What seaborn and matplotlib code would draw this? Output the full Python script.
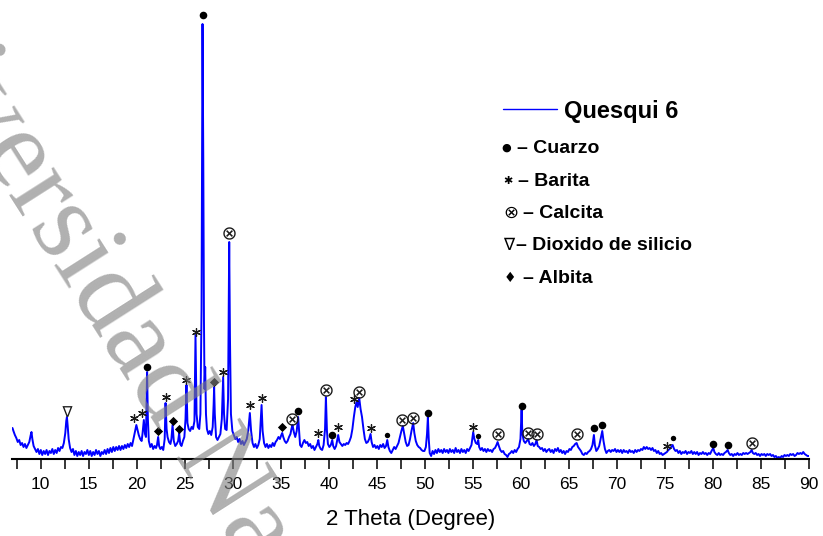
import numpy as np
import pandas as pd
import matplotlib
matplotlib.use("Agg")
import matplotlib.pyplot as plt
from matplotlib.ticker import MultipleLocator
import seaborn as sns

# ---------------- data ----------------
pattern = [
    (7.05, 31), (7.15, 28), (7.3, 24), (7.45, 21), (7.6, 17), (7.75, 19), (7.9, 14), (8.05, 16), (8.2, 12),
    (8.35, 15), (8.5, 11), (8.65, 14), (8.8, 17), (8.95, 24), (9.03, 27), (9.12, 20), (9.25, 13), (9.4, 10),
    (9.55, 7), (9.7, 10), (9.85, 5), (10.0, 9), (10.15, 4), (10.3, 8), (10.45, 5), (10.6, 9), (10.75, 4),
    (10.9, 8), (11.05, 6), (11.2, 10), (11.35, 5), (11.5, 9), (11.65, 6), (11.8, 11), (11.95, 8), (12.1, 12),
    (12.25, 11), (12.4, 16), (12.55, 26), (12.65, 38), (12.72, 42), (12.8, 33), (12.9, 20), (13.05, 11),
    (13.2, 7), (13.35, 10), (13.5, 4), (13.65, 8), (13.8, 3), (13.95, 7), (14.1, 4), (14.25, 8), (14.4, 3),
    (14.55, 7), (14.7, 5), (14.85, 9), (15.0, 4), (15.15, 8), (15.3, 3), (15.45, 7), (15.6, 4), (15.75, 9),
    (15.9, 5), (16.05, 8), (16.2, 3), (16.35, 7), (16.5, 5), (16.65, 9), (16.8, 5), (16.95, 10), (17.1, 6),
    (17.25, 11), (17.4, 7), (17.55, 12), (17.7, 8), (17.85, 12), (18.0, 9), (18.15, 13), (18.3, 9),
    (18.45, 13), (18.6, 10), (18.75, 14), (18.9, 11), (19.05, 15), (19.2, 12), (19.35, 16), (19.5, 13),
    (19.65, 20), (19.8, 27), (19.95, 34), (20.05, 30), (20.2, 24), (20.35, 20), (20.5, 18), (20.6, 26),
    (20.73, 39), (20.85, 25), (20.95, 22), (21.07, 87), (21.15, 40), (21.25, 18), (21.4, 12), (21.55, 15),
    (21.7, 10), (21.85, 13), (22.0, 11), (22.1, 14), (22.22, 22), (22.32, 13), (22.45, 10), (22.6, 12),
    (22.75, 9), (22.9, 20), (22.99, 56), (23.1, 30), (23.2, 22), (23.35, 17), (23.5, 15), (23.6, 20),
    (23.72, 34), (23.85, 18), (24.0, 13), (24.15, 15), (24.3, 18), (24.41, 26), (24.52, 15), (24.65, 13),
    (24.8, 18), (24.95, 22), (25.07, 40), (25.17, 74), (25.27, 36), (25.4, 30), (25.55, 28), (25.7, 32),
    (25.85, 30), (26.0, 38), (26.11, 124), (26.22, 45), (26.35, 32), (26.5, 30), (26.62, 45), (26.74, 150),
    (26.84, 435), (26.92, 300), (26.99, 140), (27.05, 70), (27.12, 92), (27.2, 45), (27.3, 30), (27.45, 25),
    (27.6, 28), (27.75, 24), (27.9, 32), (28.0, 55), (28.05, 72), (28.12, 45), (28.25, 22), (28.4, 19),
    (28.55, 22), (28.7, 25), (28.85, 40), (28.99, 82), (29.08, 45), (29.2, 30), (29.35, 29), (29.5, 60),
    (29.62, 217), (29.7, 120), (29.8, 45), (29.95, 28), (30.1, 24), (30.25, 20), (30.4, 22), (30.55, 17),
    (30.7, 20), (30.85, 15), (31.0, 18), (31.15, 14), (31.3, 17), (31.45, 20), (31.6, 28), (31.77, 46),
    (31.9, 28), (32.05, 16), (32.2, 12), (32.35, 15), (32.5, 11), (32.65, 14), (32.8, 20), (32.99, 54),
    (33.1, 28), (33.25, 16), (33.4, 12), (33.55, 15), (33.7, 11), (33.85, 14), (34.0, 12), (34.15, 16),
    (34.3, 13), (34.45, 17), (34.6, 19), (34.75, 22), (34.9, 20), (35.05, 24), (35.14, 26), (35.25, 22),
    (35.4, 18), (35.55, 16), (35.7, 18), (35.85, 22), (36.0, 25), (36.1, 30), (36.21, 34), (36.35, 27),
    (36.5, 22), (36.65, 28), (36.8, 42), (36.9, 28), (37.0, 14), (37.15, 12), (37.3, 16), (37.45, 19),
    (37.6, 16), (37.75, 17), (37.9, 13), (38.05, 15), (38.2, 11), (38.35, 13), (38.5, 9), (38.65, 12),
    (38.8, 15), (38.9, 19), (39.0, 13), (39.15, 10), (39.3, 9), (39.45, 14), (39.6, 30), (39.69, 62),
    (39.8, 28), (39.9, 15), (40.05, 12), (40.2, 14), (40.35, 19), (40.45, 13), (40.6, 10), (40.75, 13),
    (40.85, 18), (40.97, 24), (41.1, 17), (41.25, 15), (41.4, 13), (41.55, 15), (41.7, 14), (41.85, 16),
    (42.0, 15), (42.15, 18), (42.3, 22), (42.45, 30), (42.6, 42), (42.75, 52), (42.88, 57), (43.0, 52),
    (43.16, 61), (43.3, 50), (43.45, 42), (43.6, 30), (43.75, 20), (43.9, 16), (44.05, 17), (44.2, 20),
    (44.34, 25), (44.45, 17), (44.6, 12), (44.75, 14), (44.9, 11), (45.05, 13), (45.2, 10), (45.35, 14),
    (45.5, 12), (45.65, 15), (45.8, 11), (45.95, 13), (46.08, 19), (46.2, 12), (46.35, 8), (46.5, 6),
    (46.65, 9), (46.8, 12), (46.95, 10), (47.1, 13), (47.25, 16), (47.4, 22), (47.55, 28), (47.7, 33),
    (47.85, 25), (48.0, 17), (48.15, 13), (48.3, 14), (48.45, 20), (48.6, 28), (48.78, 36), (48.9, 26),
    (49.05, 18), (49.2, 14), (49.35, 12), (49.5, 11), (49.65, 9), (49.8, 8), (49.95, 8), (50.1, 12),
    (50.22, 25), (50.31, 42), (50.4, 20), (50.5, 6), (50.65, 3), (50.8, 8), (50.95, 5), (51.1, 9),
    (51.25, 6), (51.4, 10), (51.55, 7), (51.7, 9), (51.85, 6), (52.0, 10), (52.15, 7), (52.3, 9),
    (52.45, 6), (52.6, 10), (52.75, 7), (52.9, 9), (53.05, 6), (53.2, 11), (53.35, 7), (53.5, 9),
    (53.65, 6), (53.8, 10), (53.95, 7), (54.1, 9), (54.25, 6), (54.4, 10), (54.55, 8), (54.7, 11),
    (54.85, 14), (55.03, 27), (55.15, 20), (55.3, 16), (55.45, 15), (55.55, 19), (55.65, 12), (55.8, 9),
    (55.95, 11), (56.1, 8), (56.25, 10), (56.4, 7), (56.55, 10), (56.7, 8), (56.85, 9), (57.0, 7),
    (57.15, 10), (57.3, 11), (57.45, 14), (57.57, 17), (57.7, 13), (57.85, 9), (58.0, 7), (58.15, 8),
    (58.3, 5), (58.45, 4), (58.6, 2), (58.75, 5), (58.9, 6), (59.05, 8), (59.2, 6), (59.35, 9), (59.5, 7),
    (59.65, 10), (59.8, 12), (59.95, 20), (60.07, 49), (60.15, 25), (60.3, 18), (60.45, 16), (60.6, 18),
    (60.76, 20), (60.9, 15), (61.05, 14), (61.2, 16), (61.35, 13), (61.5, 15), (61.63, 19), (61.75, 13),
    (61.9, 12), (62.05, 10), (62.2, 11), (62.35, 8), (62.5, 10), (62.65, 7), (62.8, 9), (62.95, 10),
    (63.1, 7), (63.25, 9), (63.4, 6), (63.55, 10), (63.7, 8), (63.85, 11), (64.0, 7), (64.15, 9),
    (64.3, 6), (64.45, 8), (64.6, 5), (64.75, 8), (64.9, 7), (65.05, 10), (65.2, 9), (65.35, 12),
    (65.5, 13), (65.65, 15), (65.8, 16), (65.95, 12), (66.1, 10), (66.25, 8), (66.4, 5), (66.55, 4),
    (66.7, 6), (66.85, 5), (67.0, 7), (67.15, 8), (67.3, 10), (67.45, 14), (67.6, 24), (67.7, 14),
    (67.85, 8), (68.0, 10), (68.15, 13), (68.3, 20), (68.47, 28), (68.6, 18), (68.75, 10), (68.9, 6),
    (69.05, 8), (69.2, 9), (69.35, 7), (69.5, 9), (69.65, 8), (69.8, 10), (69.95, 7), (70.1, 9),
    (70.25, 7), (70.4, 9), (70.55, 6), (70.7, 9), (70.85, 7), (71.0, 8), (71.15, 6), (71.3, 9),
    (71.45, 7), (71.6, 8), (71.75, 6), (71.9, 9), (72.05, 7), (72.2, 9), (72.35, 8), (72.5, 10),
    (72.65, 9), (72.8, 12), (72.95, 10), (73.1, 12), (73.25, 10), (73.4, 11), (73.55, 9), (73.7, 11),
    (73.85, 8), (74.0, 9), (74.15, 6), (74.3, 8), (74.45, 5), (74.6, 6), (74.75, 4), (74.9, 5),
    (75.05, 6), (75.2, 7), (75.35, 9), (75.5, 10), (75.65, 12), (75.8, 14), (75.95, 10), (76.1, 8),
    (76.25, 9), (76.4, 6), (76.55, 8), (76.7, 5), (76.85, 7), (77.0, 6), (77.15, 8), (77.3, 5),
    (77.45, 7), (77.6, 6), (77.75, 8), (77.9, 5), (78.05, 7), (78.2, 5), (78.35, 7), (78.5, 4),
    (78.65, 6), (78.8, 5), (78.95, 7), (79.1, 5), (79.25, 6), (79.4, 4), (79.55, 6), (79.7, 5),
    (79.85, 8), (80.03, 11), (80.15, 7), (80.3, 5), (80.45, 4), (80.6, 6), (80.75, 4), (80.9, 5),
    (81.05, 4), (81.2, 6), (81.35, 7), (81.53, 9), (81.65, 6), (81.8, 4), (81.95, 5), (82.1, 3),
    (82.25, 5), (82.4, 4), (82.55, 6), (82.7, 4), (82.85, 5), (83.0, 4), (83.15, 6), (83.3, 5),
    (83.45, 6), (83.6, 5), (83.75, 6), (83.9, 7), (84.03, 9), (84.15, 6), (84.3, 5), (84.45, 6),
    (84.6, 4), (84.75, 5), (84.9, 3), (85.05, 5), (85.2, 4), (85.35, 5), (85.5, 3), (85.65, 5),
    (85.8, 4), (85.95, 5), (86.1, 3), (86.25, 4), (86.4, 2), (86.55, 3), (86.7, 1), (86.85, 2),
    (87.0, 1), (87.15, 3), (87.3, 2), (87.45, 4), (87.6, 3), (87.75, 4), (87.9, 3), (88.05, 5),
    (88.2, 4), (88.35, 5), (88.5, 3), (88.65, 4), (88.8, 6), (88.95, 5), (89.1, 6), (89.25, 5),
    (89.4, 7), (89.55, 5), (89.7, 4), (89.85, 3), (90.0, 3),
]
two_theta = [p[0] for p in pattern]
intensity = [p[1] for p in pattern]

# phase markers (2theta, marker height)
cuarzo_x = [26.88, 21.07, 36.8, 40.35, 50.31, 60.07, 67.6, 68.47, 80.03, 81.53]
cuarzo_y = [444, 92, 48, 24, 46, 53, 31, 34, 15, 14]
cuarzo_small_x = [46.08, 55.55, 75.8]
cuarzo_small_y = [24, 23, 21]
barita_x = [19.72, 20.55, 22.99, 25.17, 26.11, 28.99, 31.77, 32.99, 38.9, 40.97, 42.6, 44.34, 55.03, 75.18]
barita_y = [41, 46, 62, 79, 127, 87, 54, 61, 26, 32, 60, 31, 32, 13]
calcita_x = [29.62, 36.21, 39.69, 43.16, 47.64, 48.78, 57.57, 60.76, 61.64, 65.8, 84.03]
calcita_y = [226, 40, 69, 67, 39, 41, 25, 26, 25, 25, 16]
dioxido_x = [12.68]
dioxido_y = [48]
albita_x = [22.22, 23.72, 24.41, 28.05, 35.14]
albita_y = [28, 38, 30, 77, 32]

sample_name = "Quesqui 6"
legend_symbols = ["\u25cf", "\u2731", "\u2297", "\u2207", "\u2666"]
legend_labels = ["\u2013 Cuarzo", "\u2013 Barita", "\u2013 Calcita", "\u2013 Dioxido de silicio", "\u2013 Albita"]
xlabel = "2 Theta (Degree)"
watermark = "Universidad Nacional"

# ---------------- plotting ----------------
sns.set_theme(style="white")
plt.rcParams["font.family"] = ["Liberation Sans", "DejaVu Sans"]

fig = plt.figure(figsize=(8.23, 5.36), dpi=100)
ax = fig.add_axes([12 / 823, (536 - 459) / 536, 797 / 823, 459 / 536])

df = pd.DataFrame({"two_theta": two_theta, "intensity": intensity})
sns.lineplot(data=df, x="two_theta", y="intensity", estimator=None, sort=False,
             color="#0000ff", linewidth=1.4, ax=ax, zorder=2)

mk = "#1a1a1a"
sns.scatterplot(x=cuarzo_x, y=cuarzo_y, marker="o", s=30, color="black", linewidth=0, ax=ax, zorder=3)
sns.scatterplot(x=cuarzo_small_x, y=cuarzo_small_y, marker="o", s=15, color="black", linewidth=0, ax=ax, zorder=3)
sns.scatterplot(x=barita_x, y=barita_y, marker=(6, 2, 0), s=32, color=mk, linewidth=0.9, ax=ax, zorder=3)
sns.scatterplot(x=calcita_x, y=calcita_y, marker="$\\otimes$", s=80, color=mk, linewidth=0, ax=ax, zorder=3)
sns.scatterplot(x=dioxido_x, y=dioxido_y, marker="$\\nabla$", s=60, color=mk, linewidth=0, ax=ax, zorder=3)
sns.scatterplot(x=albita_x, y=albita_y, marker="D", s=22, color="black", linewidth=0, ax=ax, zorder=3)

ax.set_xlim(7.0, 90.0)
ax.set_ylim(0, 459)
for side in ["left", "top", "right"]:
    ax.spines[side].set_visible(False)
ax.spines["bottom"].set_linewidth(1.5)
ax.spines["bottom"].set_color("black")
ax.set_yticks([])
ax.set_ylabel("")
ax.set_xticks(list(range(10, 95, 5)))
ax.xaxis.set_minor_locator(MultipleLocator(2.5))
ax.tick_params(axis="x", which="both", direction="out", length=7, width=1.1,
               color="black", bottom=True, pad=6)
ax.tick_params(axis="x", which="major", labelsize=12.5, labelcolor="black")
ax.set_xlabel(xlabel, fontsize=16, color="black")
ax.xaxis.set_label_coords(0.5, -0.108)

def fx(px):
    return (px - 12) / 797

def fy(py):
    return (459 - py) / 459

# legend block
ax.plot([fx(502.7), fx(557.3)], [fy(109.3), fy(109.3)], color="#0000ff", lw=1.0,
        transform=ax.transAxes, clip_on=False)
ax.text(fx(564), fy(118.3), sample_name, transform=ax.transAxes, fontsize=17,
        fontweight="bold", ha="left", va="baseline", color="black")
sym_pos = [(506.7, 150.5, 8, "bold"), (507.5, 184.5, 8, "bold"), (510.5, 217.7, 13, "normal"),
           (509, 250, 12, "normal"), (510, 282, 10, "bold")]
lab_x = [516.7, 517.7, 523.3, 516, 522.7]
lab_y = [153.3, 186, 217.7, 250, 283.3]
for (sx, sy, sfs, sw), sym, lx, ly, lab in zip(sym_pos, legend_symbols, lab_x, lab_y, legend_labels):
    ax.text(fx(sx), fy(sy), sym, transform=ax.transAxes, fontsize=sfs, fontweight=sw,
            ha="center", va="baseline", color="black", family=["DejaVu Sans"])
    ax.text(fx(lx), fy(ly), lab, transform=ax.transAxes, fontsize=14, fontweight="bold",
            ha="left", va="baseline", color="black")

# watermark
fig.text(-0.1755, 1.084, watermark, rotation=-57.5, rotation_mode="anchor", ha="left",
         va="baseline", fontsize=83, family=["Liberation Serif", "DejaVu Serif"],
         color="#808080", alpha=0.62, zorder=10)

fig.savefig("out.png", dpi=100)
